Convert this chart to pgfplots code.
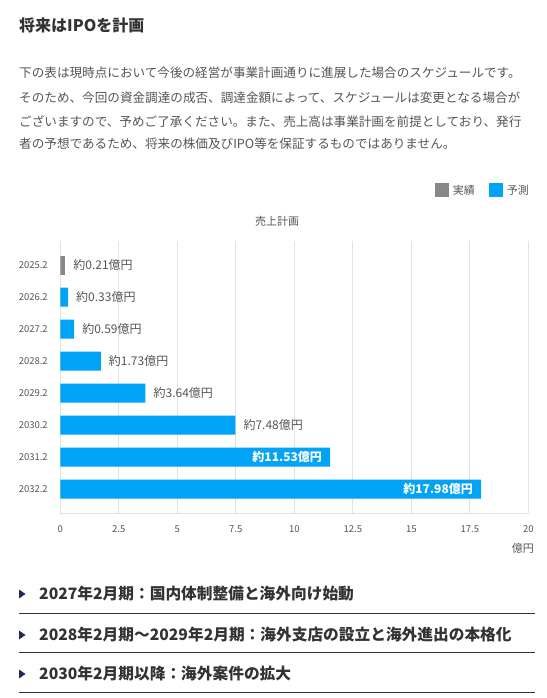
\documentclass[border=0pt]{standalone}
\usepackage{fontspec}
\setmainfont{Noto Sans CJK JP}
\usepackage{pgfplots}
\pgfplotsset{compat=1.18}
\definecolor{barblue}{RGB}{0,163,245}
\definecolor{bargray}{RGB}{136,136,136}
\definecolor{txt}{RGB}{85,85,85}
\definecolor{dark}{RGB}{51,51,51}
\definecolor{navy}{RGB}{32,40,90}
\definecolor{gridc}{RGB}{226,226,226}

\begin{document}
\begin{tikzpicture}[x=1pt,y=1pt]
\path[use as bounding box] (0,0) rectangle (546,-698);

% heading and note
\node[anchor=west, inner sep=0, text=dark, font=\bfseries\fontsize{16}{16}\selectfont] at (19,-25) {将来はIPOを計画};
\begin{scope}[every node/.style={anchor=west, inner sep=0, text=txt, font=\fontsize{12.6}{12.6}\selectfont}]
\node at (19,-72.7) {下の表は現時点において今後の経営が事業計画通りに進展した場合のスケジュールです。};
\node at (19,-97.3) {そのため、今回の資金調達の成否、調達金額によって、スケジュールは変更となる場合が};
\node at (19,-121.3) {ございますので、予めご了承ください。また、売上高は事業計画を前提としており、発行};
\node at (19,-144) {者の予想であるため、将来の株価及びIPO等を保証するものではありません。};
\end{scope}

\node[text=txt, font=\fontsize{11}{11}\selectfont] at (277,-221) {売上計画};

\begin{axis}[
    at={(60.3pt,-513pt)}, anchor=south west,
    scale only axis, width=468pt, height=272pt,
    xbar, bar width=19pt, bar shift=0pt,
    xmin=0, xmax=20, ymin=-0.75, ymax=7.75,
    xtick={0,2.5,...,20},
    ytick={0,...,7},
    yticklabels={2032.2,2031.2,2030.2,2029.2,2028.2,2027.2,2026.2,2025.2},
    /pgf/number format/assume math mode=true,
    axis lines=left,
    axis line style={gridc, line width=0.8pt, -},
    xmajorgrids, major grid style={gridc, line width=0.8pt},
    major tick length=0pt,
    xticklabel style={font=\fontsize{9.5}{9.5}\selectfont, text=txt, yshift=-9pt},
    yticklabel style={font=\fontsize{9.5}{9.5}\selectfont, text=txt, xshift=-9pt},
    legend image code/.code={\fill[#1] (0pt,-7pt) rectangle (14pt,7pt);},
    legend style={at={(axis description cs:1.0058,1.186)}, anchor=east,
        draw=none, fill=none, inner sep=0pt, legend columns=2,
        font=\fontsize{11}{11}\selectfont, text=txt,
        /tikz/every odd column/.append style={column sep=2pt},
        /tikz/every even column/.append style={column sep=12pt}},
    nodes near coords={約\pgfmathprintnumber[fixed,fixed zerofill,precision=2]{\pgfplotspointmeta}億円},
    point meta=x,
]
% actual
\addplot[fill=bargray, draw=none,
    every node near coord/.style={anchor=west, inner sep=0pt, xshift=8pt, text=txt, font=\fontsize{12}{12}\selectfont}]
    coordinates {(0.21,7)};
\addlegendentry{実績}
% forecast, label outside
\addplot[fill=barblue, draw=none,
    every node near coord/.style={anchor=west, inner sep=0pt, xshift=8pt, text=txt, font=\fontsize{12}{12}\selectfont}]
    coordinates {(0.33,6) (0.59,5) (1.73,4) (3.64,3) (7.48,2)};
\addlegendentry{予測}
% forecast, label inside
\addplot[fill=barblue, draw=none, forget plot,
    every node near coord/.style={anchor=east, inner sep=0pt, xshift=-8pt, text=white, font=\bfseries\fontsize{12}{12}\selectfont}]
    coordinates {(11.53,1) (17.98,0)};
\end{axis}

\node[anchor=east, inner sep=0, text=txt, font=\fontsize{11}{11}\selectfont] at (534,-548) {億円};

% schedule
\begin{scope}[every node/.style={anchor=west, inner sep=0, text=dark, font=\bfseries\fontsize{15.7}{15.7}\selectfont}]
\fill[navy] (19,-589.5) -- (25.5,-594) -- (19,-598.5) -- cycle;
\node at (39,-594) {2027年2月期：国内体制整備と海外向け始動};
\draw[dark, line width=1pt] (19,-613) -- (535,-613);
\fill[navy] (19,-630.5) -- (25.5,-635) -- (19,-639.5) -- cycle;
\node at (39,-635) {2028年2月期〜2029年2月期：海外支店の設立と海外進出の本格化};
\draw[dark, line width=1pt] (19,-652) -- (535,-652);
\fill[navy] (19,-669.5) -- (25.5,-674) -- (19,-678.5) -- cycle;
\node at (39,-674) {2030年2月期以降：海外案件の拡大};
\draw[dark, line width=1pt] (19,-692) -- (535,-692);
\end{scope}
\end{tikzpicture}
\end{document}
